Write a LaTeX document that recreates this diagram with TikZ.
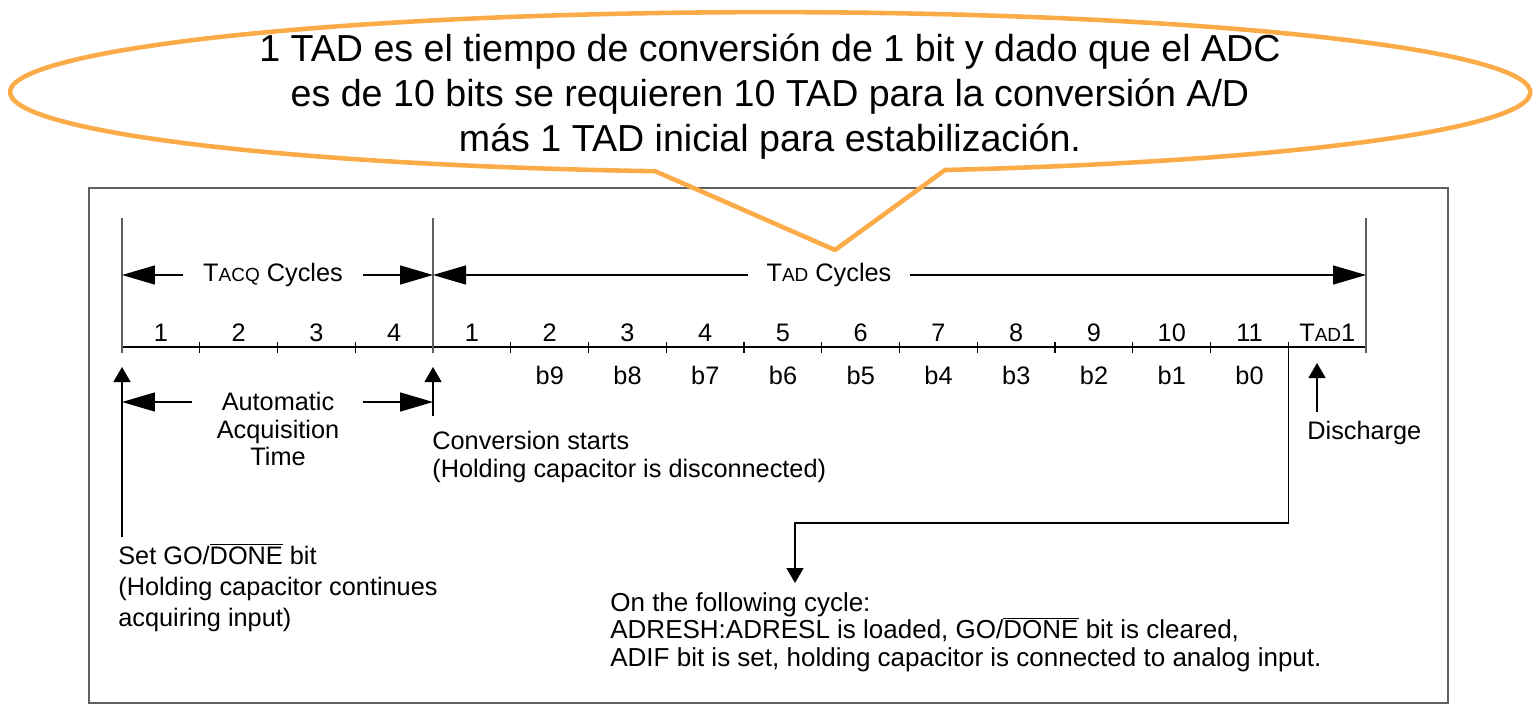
\documentclass[tikz,border=0pt]{standalone}
\usepackage{fontspec}
\setmainfont{Liberation Sans}
\usepackage{xcolor}
\usetikzlibrary{arrows.meta,calc}
\definecolor{calloutorange}{RGB}{251,172,72}
\definecolor{framegray}{RGB}{95,95,95}
\newcommand{\smc}[1]{{\fontsize{10.8}{12}\selectfont #1}}
\newcommand{\negbar}[1]{$\overline{\mbox{#1}}$}

\begin{document}
\begin{tikzpicture}[x=0.02cm, y=-0.02cm,
    txt/.style={font=\fontsize{14.4}{15.9}\selectfont, inner sep=0pt},
    bigtip/.style={-{Triangle[length=0.66cm,width=0.38cm]}, line width=0.8pt},
    uptip/.style={-{Triangle[length=0.3cm,width=0.34cm]}, line width=0.8pt}]
    \useasboundingbox (0,0) rectangle (1540,716);

    % Frame
    \draw[framegray, line width=1.1pt] (89,188) rectangle (1448,703);

    % Time axis
    \foreach \i in {0,...,16} \coordinate (t\i) at ({122+77.75*\i},347);
    \draw[line width=0.8pt] (t0) -- (t16);
    \foreach \i in {1,2,3,5,6,...,15} \draw[line width=0.8pt] ($(t\i)+(0,-5)$) -- ($(t\i)+(0,6)$);
    \foreach \i in {0,4,16} \draw[framegray, line width=0.9pt] ($(t\i)+(0,-129)$) -- ($(t\i)+(0,6)$);

    % Cycle numbers
    \foreach \n [count=\i from 0] in {1,2,3,4,1,2,3,4,5,6,7,8,9,10,11}
        \node[txt] (n\i) at ({161+77.75*\i},333) {\n};
    \node[txt] (n15) at ({161+77.75*15},333) {T\smc{AD}1};

    % Bits
    \foreach \b [count=\i from 5] in {9,8,...,0}
        \node[txt] (b\b) at ({161+77.75*\i},375) {b\b};

    % Cycle spans
    \node[txt, inner xsep=0.4cm] (tacq) at (273,275) {T\smc{ACQ} Cycles};
    \draw[bigtip] (tacq.west) -- (tacq.west -| t0);
    \draw[bigtip] (tacq.east) -- (tacq.east -| t4);
    \node[txt, inner xsep=0.36cm] (tad) at (829,275) {T\smc{AD} Cycles};
    \draw[bigtip] (tad.west) -- (tad.west -| t4);
    \draw[bigtip] (tad.east) -- (tad.east -| t16);

    % Acquisition time
    \node[txt, align=center] (auto) at (278,429) {Automatic\\Acquisition\\Time};
    \coordinate (acqrow) at (0,402);
    \draw[bigtip] ($(auto.west |- acqrow)+(-24,0)$) -- (acqrow -| t0);
    \draw[bigtip] ($(auto.east |- acqrow)+(23,0)$) -- (acqrow -| t4);

    % Markers
    \node[txt, align=left, anchor=north west, font=\fontsize{14.4}{17.6}\selectfont] (setgo) at (118,543)
        {Set GO/\negbar{DONE} bit\\(Holding capacitor continues\\acquiring input)};
    \draw[uptip] ($(setgo.north west -| t0)+(0,-6)$) -- ($(t0)+(0,20)$);
    \node[txt, align=left, anchor=north west] (conv) at (432,431)
        {Conversion starts\\(Holding capacitor is disconnected)};
    \draw[uptip] ($(conv.north west -| t4)+(0,-15)$) -- ($(t4)+(0,20)$);
    \node[txt, anchor=north west] (dis) at (1307,421) {Discharge};
    \draw[uptip] ($(dis.north west)+(10,-9)$) -- ($(dis.north west)+(10,-58)$);

    % Result
    \node[txt, align=left, anchor=north west, font=\fontsize{14.8}{15.6}\selectfont] (follow) at (610,592)
        {On the following cycle:\\ADRESH:ADRESL is loaded, GO/\negbar{DONE} bit is cleared,\\ADIF bit is set, holding capacitor is connected to analog input.};
    \coordinate (bend) at (795,523);
    \draw[uptip] ($(t15)+(0,-4)$) |- (bend) -- ($(follow.north west -| bend)+(0,-9)$);

    % Callout
    \draw[calloutorange, line width=2.6pt, line join=round] (945,170)
        arc[start angle=76.7, end angle=-261.3, x radius=760, y radius=80] -- (835,250) -- cycle;
    \node[font=\fontsize{21.4}{25.6}\selectfont, align=center, inner sep=0pt] (note) at (770,97)
        {1 TAD es el tiempo de conversión de 1 bit y dado que el ADC\\es de 10 bits se requieren 10 TAD para la conversión A/D\\más 1 TAD inicial para estabilización.};
\end{tikzpicture}
\end{document}
